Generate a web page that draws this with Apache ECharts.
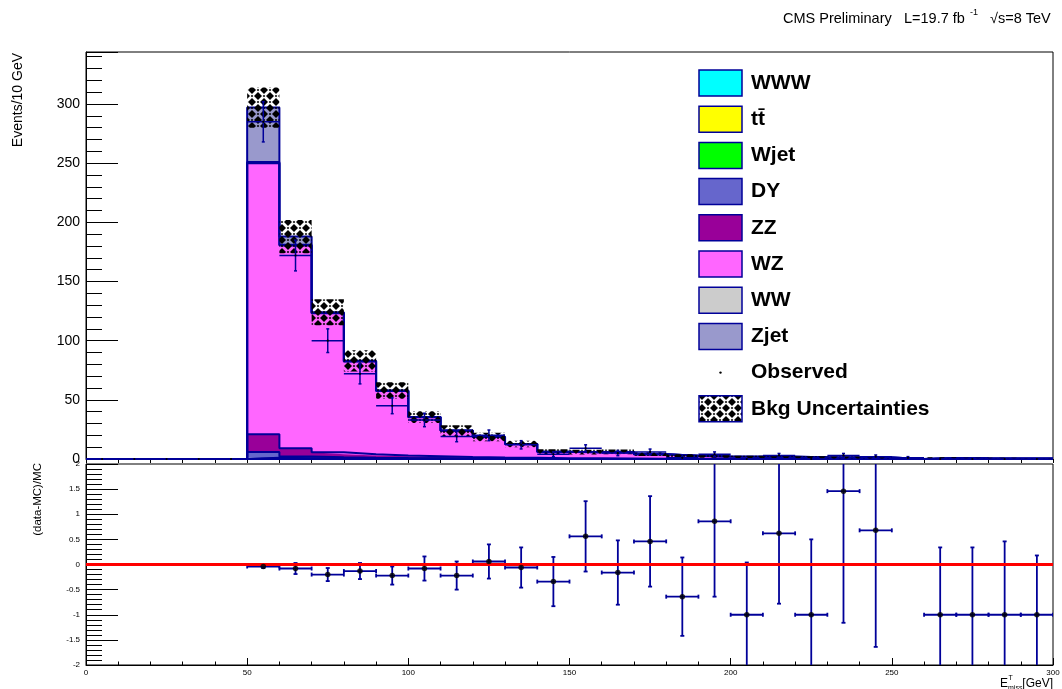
<!DOCTYPE html>
<html>
<head>
<meta charset="utf-8">
<title>MET distribution</title>
<script src="https://cdn.jsdelivr.net/npm/echarts@6.0.0/dist/echarts.min.js"></script>
<style>
  html, body { margin: 0; padding: 0; background: #fff; }
  #chart { width: 1062px; height: 689px; }
</style>
</head>
<body>
<div id="chart"></div>
<script>
// ---- binning (lower edges of the 10 GeV bins) ----
const binLow = [0, 10, 20, 30, 40, 50, 60, 70, 80, 90, 100, 110, 120, 130, 140,
                150, 160, 170, 180, 190, 200, 210, 220, 230, 240, 250, 260, 270, 280, 290];
const binWidth = 10;

// ---- simulated backgrounds, events per bin (stack order: bottom first) ----
const wwwEvents  = [0,0,0,0,0, 0.1,0.1,0.1,0.1,0.05, 0.05,0,0,0,0, 0,0,0,0,0, 0,0,0,0,0, 0,0,0,0,0];
const ttEvents   = [0,0,0,0,0, 0.4,0.3,0.2,0.2,0.1, 0.1,0.1,0.1,0,0, 0,0,0,0,0, 0,0,0,0,0, 0,0,0,0,0];
const wjetEvents = [0,0,0,0,0, 0.5,0.3,0.2,0,0, 0,0,0,0,0, 0,0,0,0,0, 0,0,0,0,0, 0,0,0,0,0];
const dyEvents   = [0,0,0,0,0, 5.0,1.5,1.0,0.8,0.6, 0.5,0.3,0.2,0.2,0.1, 0.1,0.1,0,0,0, 0,0,0,0,0, 0,0,0,0,0];
const zzEvents   = [0,0,0,0,0, 15,6.9,4.2,3.0,2.3, 1.7,1.3,1.0,0.8,0.6, 0.5,0.4,0.3,0.3,0.2,
                    0.2,0.2,0.1,0.1,0.1, 0,0.1,0.1,0.05,0.05];
const wzEvents   = [0,0,0,0,0, 229,171.4,117.5,78.4,54.5, 33,22.2,17.2,11.6,5.3, 5.2,5.5,3.8,2.5,1.95,
                    1.6,1.65,1.3,1.12,1.09, 0,0.7,0.5,0.45,0.35];
const wwEvents   = [0,0,0,0,0, 1.0,0.5,0.3,0.2,0.2, 0.1,0.1,0.1,0.1,0.1, 0,0,0,0,0, 0,0,0,0,0, 0,0,0,0,0];
const zjetEvents = [0,0,0,0,0, 46,7,0.5,0.3,0.2, 0,0,0,0,0, 0,0,0,0,0, 0,0,0,0,0, 0,0,0,0,0];

// ---- background uncertainty (half-width of the band) ----
const bkgUncertainty = [0,0,0,0,0, 17,14,11,9,7, 5,4.5,3.5,2.8,2.2, 2,2,1.6,1.3,1.1,
                        1,1,0.9,0.8,0.8, 0,0.6,0.5,0.5,0.4];

// ---- observed data ----
const observed    = [0,0,0,0,0, 285,172,100,72,45, 33,19,20,12,4, 9,5,6,1,4, 0,3,0,3,2, 1,0,0,0,0];
const observedErr = [0,0,0,0,0, 17,13,10,8.5,6.7, 5.7,4.4,4.5,3.5,2, 3,2.2,2.4,1,2,
                     0,1.7,0,1.7,1.4, 1,0,0,0,0];

// ---- (data-MC)/MC ----
const ratio    = [null,null,null,null,null, -0.04,-0.08,-0.2,-0.13,-0.22, -0.08,-0.22,0.06,-0.06,-0.34,
                  0.56,-0.16,0.46,-0.64,0.86, -1,0.62,-1,1.46,0.68, null,-1,-1,-1,-1];
const ratioErr = [null,null,null,null,null, 0.03,0.11,0.13,0.16,0.18, 0.24,0.28,0.34,0.4,0.49,
                  0.7,0.64,0.9,0.78,1.5, 1.04,1.4,1.5,2.62,2.32, null,1.34,1.34,1.46,1.18];

// ---- axis tick values ----
const yMainTicks  = [0, 50, 100, 150, 200, 250, 300];
const yRatioTicks = [-2, -1.5, -1, -0.5, 0, 0.5, 1, 1.5, 2];
const xTicks      = [0, 50, 100, 150, 200, 250, 300];

// ---- styles ----
const FONT = '"Liberation Sans", Arial, Helvetica, sans-serif';
const NAVY = '#000099';
const stackLayers = [
  { name: 'WWW',  values: wwwEvents,  color: '#00ffff' },
  { name: 'tt\u0304', values: ttEvents, color: '#ffff00' },
  { name: 'Wjet', values: wjetEvents, color: '#00ff00' },
  { name: 'DY',   values: dyEvents,   color: '#6666cc' },
  { name: 'ZZ',   values: zzEvents,   color: '#990099' },
  { name: 'WZ',   values: wzEvents,   color: '#ff66ff' },
  { name: 'WW',   values: wwEvents,   color: '#cccccc' },
  { name: 'Zjet', values: zjetEvents, color: '#9999cc' }
];

const xMax = binLow[binLow.length - 1] + binWidth;
// bin edges used as the categories of the stacked histogram
const binEdges = binLow.concat([xMax]).map(String);

// total simulated background per bin (top of the stack)
const mcTotal = binLow.map((_, i) => stackLayers.reduce((s, l) => s + l.values[i], 0));

// woven fill pattern used for the uncertainty band: black diamonds
// separated by narrow crossing see-through bands
function makeWeave() {
  const n = 12;
  const c = document.createElement('canvas');
  c.width = n; c.height = n;
  const g = c.getContext('2d');
  g.fillStyle = '#000';
  const diamond = (cx, cy, r) => {
    g.beginPath();
    g.moveTo(cx, cy - r); g.lineTo(cx + r, cy); g.lineTo(cx, cy + r); g.lineTo(cx - r, cy);
    g.closePath(); g.fill();
  };
  const r = 4;
  diamond(6, 0, r); diamond(6, 12, r); diamond(0, 6, r); diamond(12, 6, r);
  diamond(6, 6, 1.3);
  diamond(0, 0, 1.3); diamond(12, 0, 1.3); diamond(0, 12, 1.3); diamond(12, 12, 1.3);
  return c;
}
const weave = { image: makeWeave(), repeat: 'repeat' };

// step-histogram values: one per lower edge plus the closing edge
function stepValues(values) {
  return values.concat([values[values.length - 1]]);
}

const series = [];

stackLayers.forEach(layer => {
  series.push({
    type: 'line', name: layer.name, xAxisIndex: 0, yAxisIndex: 0,
    stack: 'mc', step: 'end', symbol: 'none', showSymbol: false,
    data: stepValues(layer.values),
    lineStyle: { color: NAVY, width: 2 },
    areaStyle: { color: layer.color, opacity: 1 },
    silent: true, z: 2
  });
});

// uncertainty band
series.push({
  type: 'custom', name: 'Bkg Uncertainties', xAxisIndex: 2, yAxisIndex: 0, z: 3, silent: true,
  data: binLow.map((x, i) => [x, mcTotal[i] - bkgUncertainty[i], mcTotal[i] + bkgUncertainty[i]]),
  renderItem(params, api) {
    const lo = api.value(1), hi = api.value(2);
    if (!(hi > lo)) return null;
    const x0 = api.value(0);
    const a = api.coord([x0, hi]);
    const b = api.coord([x0 + binWidth, lo]);
    return { type: 'rect', shape: { x: a[0], y: a[1], width: b[0] - a[0], height: b[1] - a[1] },
             style: { fill: weave } };
  }
});

// observed data with error crosses
series.push({
  type: 'custom', name: 'Observed', xAxisIndex: 2, yAxisIndex: 0, z: 4, silent: true,
  data: binLow.map((x, i) => [x, observed[i], observedErr[i]]),
  renderItem(params, api) {
    const x0 = api.value(0), v = api.value(1), e = api.value(2);
    const xc = x0 + binWidth / 2;
    const l = api.coord([x0, v]), r = api.coord([x0 + binWidth, v]), c = api.coord([xc, v]);
    const st = { stroke: NAVY, lineWidth: 1.5 };
    const kids = [{ type: 'line', shape: { x1: l[0], y1: l[1], x2: r[0], y2: r[1] }, style: st }];
    if (e > 0) {
      const t = api.coord([xc, v + e]), b = api.coord([xc, v - e]);
      kids.push({ type: 'line', shape: { x1: t[0], y1: t[1], x2: b[0], y2: b[1] }, style: st });
      kids.push({ type: 'line', shape: { x1: t[0] - 1.5, y1: t[1], x2: t[0] + 1.5, y2: t[1] }, style: st });
      kids.push({ type: 'line', shape: { x1: b[0] - 1.5, y1: b[1], x2: b[0] + 1.5, y2: b[1] }, style: st });
    }
    kids.push({ type: 'circle', shape: { cx: c[0], cy: c[1], r: 1.1 }, style: { fill: '#000' } });
    return { type: 'group', children: kids };
  }
});

// ratio panel: error bars
const ratioPoints = binLow
  .map((x, i) => [x, ratio[i], ratioErr[i]])
  .filter(d => d[1] !== null);

series.push({
  type: 'custom', xAxisIndex: 1, yAxisIndex: 1, z: 3, silent: true, clip: true,
  data: ratioPoints,
  renderItem(params, api) {
    const x0 = api.value(0), v = api.value(1), e = api.value(2);
    const xc = x0 + binWidth / 2;
    const l = api.coord([x0, v]), r = api.coord([x0 + binWidth, v]);
    const t = api.coord([xc, v + e]), b = api.coord([xc, v - e]);
    const st = { stroke: NAVY, lineWidth: 1.8 };
    const cap = 2;
    return { type: 'group', children: [
      { type: 'line', shape: { x1: l[0], y1: l[1], x2: r[0], y2: r[1] }, style: st },
      { type: 'line', shape: { x1: l[0], y1: l[1] - cap, x2: l[0], y2: l[1] + cap }, style: st },
      { type: 'line', shape: { x1: r[0], y1: r[1] - cap, x2: r[0], y2: r[1] + cap }, style: st },
      { type: 'line', shape: { x1: t[0], y1: t[1], x2: b[0], y2: b[1] }, style: st },
      { type: 'line', shape: { x1: t[0] - cap, y1: t[1], x2: t[0] + cap, y2: t[1] }, style: st },
      { type: 'line', shape: { x1: b[0] - cap, y1: b[1], x2: b[0] + cap, y2: b[1] }, style: st }
    ] };
  }
});

// reference line at zero
series.push({
  type: 'line', xAxisIndex: 1, yAxisIndex: 1, z: 4, silent: true,
  symbol: 'none', data: [[0, 0], [xMax, 0]],
  lineStyle: { color: '#ff0000', width: 3 }
});

// ratio points
series.push({
  type: 'scatter', xAxisIndex: 1, yAxisIndex: 1, z: 5, silent: true,
  symbol: 'circle', symbolSize: 5.5,
  itemStyle: { color: '#000' },
  data: ratioPoints.map(d => [d[0] + binWidth / 2, d[1]])
});

// ---- texts and legend ----
const gfx = [];
function addText(text, x, y, size, opts = {}) {
  const align = opts.align || 'left';
  gfx.push({
    type: 'text', x, y, rotation: opts.rotation || 0, silent: true, z: 20,
    style: {
      text, x: 0, y: 0, fill: '#000',
      font: `${opts.weight || 'normal'} ${size}px ${FONT}`,
      align, textAlign: align, verticalAlign: 'middle', textVerticalAlign: 'middle'
    }
  });
}

addText('CMS Preliminary', 783, 19, 14.5);
addText('L=19.7 fb', 904, 19, 14.5);
addText('-1', 970, 13, 9);
addText('\u221As=8 TeV', 990, 19, 14.5);

addText('Events/10 GeV', 18, 53, 14, { align: 'right', rotation: Math.PI / 2 });
addText('(data-MC)/MC', 38, 463, 11.5, { align: 'right', rotation: Math.PI / 2 });

addText('E', 1000, 684, 12);
addText('T', 1008.5, 678, 7);
addText('miss', 1008, 688, 7);
addText('[GeV]', 1053, 684, 12, { align: 'right' });

const legendEntries = stackLayers.map(l => ({ label: l.name, kind: 'box', color: l.color }))
  .concat([{ label: 'Observed', kind: 'dot' }, { label: 'Bkg Uncertainties', kind: 'hatch' }]);
const legendX = 699, legendTop = 83, legendStep = 36.2, boxW = 43, boxH = 26;
legendEntries.forEach((e, i) => {
  const cy = legendTop + i * legendStep;
  if (e.kind === 'box' || e.kind === 'hatch') {
    gfx.push({
      type: 'rect', silent: true, z: 20,
      shape: { x: legendX, y: cy - boxH / 2, width: boxW, height: boxH },
      style: { fill: e.kind === 'box' ? e.color : weave, stroke: NAVY, lineWidth: 1.5 }
    });
  } else {
    gfx.push({ type: 'circle', silent: true, z: 20,
      shape: { cx: legendX + boxW / 2, cy, r: 1.2 }, style: { fill: '#000' } });
  }
  addText(e.label, 751, cy, 21, { weight: 'bold' });
});

const chart = echarts.init(document.getElementById('chart'), null, { renderer: 'canvas' });

const axisBase = {
  axisLine: { show: true, onZero: false, lineStyle: { color: '#000', width: 1 } },
  splitLine: { show: false },
  minorSplitLine: { show: false }
};

chart.setOption({
  animation: false,
  textStyle: { fontFamily: FONT },
  grid: [
    { left: 86, right: 9, top: 52, height: 407, show: true, borderColor: '#000', borderWidth: 1,
      backgroundColor: 'transparent', outerBoundsMode: 'none', containLabel: false },
    { left: 86, right: 9, top: 464, height: 201, show: true, borderColor: '#000', borderWidth: 1,
      backgroundColor: 'transparent', outerBoundsMode: 'none', containLabel: false }
  ],
  xAxis: [
    // bin edges of the stacked histogram
    Object.assign({}, axisBase, {
      type: 'category', gridIndex: 0, data: binEdges, boundaryGap: false, position: 'bottom',
      axisLabel: { show: false },
      axisTick: { show: true, inside: false, length: 4, interval: 0, lineStyle: { color: '#000' } }
    }),
    Object.assign({}, axisBase, {
      type: 'value', gridIndex: 1, min: xTicks[0], max: xTicks[xTicks.length - 1],
      interval: xTicks[1] - xTicks[0],
      axisLabel: { show: true, fontSize: 8, color: '#000', margin: 4 },
      axisTick: { show: true, inside: true, length: 7, lineStyle: { color: '#000' } },
      minorTick: { show: true, splitNumber: 5, length: 3.5, lineStyle: { color: '#000' } }
    }),
    // continuous GeV scale of the upper panel for data points and band
    {
      type: 'value', gridIndex: 0, min: xTicks[0], max: xTicks[xTicks.length - 1],
      position: 'top', show: false
    }
  ],
  yAxis: [
    Object.assign({}, axisBase, {
      type: 'value', gridIndex: 0, min: yMainTicks[0], max: 344, interval: yMainTicks[1] - yMainTicks[0],
      axisLabel: { show: true, fontSize: 14, color: '#000', margin: 6, showMaxLabel: false },
      axisTick: { show: true, inside: true, length: 32, lineStyle: { color: '#000' } },
      minorTick: { show: true, splitNumber: 5, length: 16, lineStyle: { color: '#000' } }
    }),
    Object.assign({}, axisBase, {
      type: 'value', gridIndex: 1, min: yRatioTicks[0], max: yRatioTicks[yRatioTicks.length - 1],
      interval: yRatioTicks[1] - yRatioTicks[0],
      axisLabel: { show: true, fontSize: 8, color: '#000', margin: 6 },
      axisTick: { show: true, inside: true, length: 32, lineStyle: { color: '#000' } },
      minorTick: { show: true, splitNumber: 5, length: 16, lineStyle: { color: '#000' } }
    })
  ],
  series,
  graphic: { elements: gfx }
});
</script>
</body>
</html>
